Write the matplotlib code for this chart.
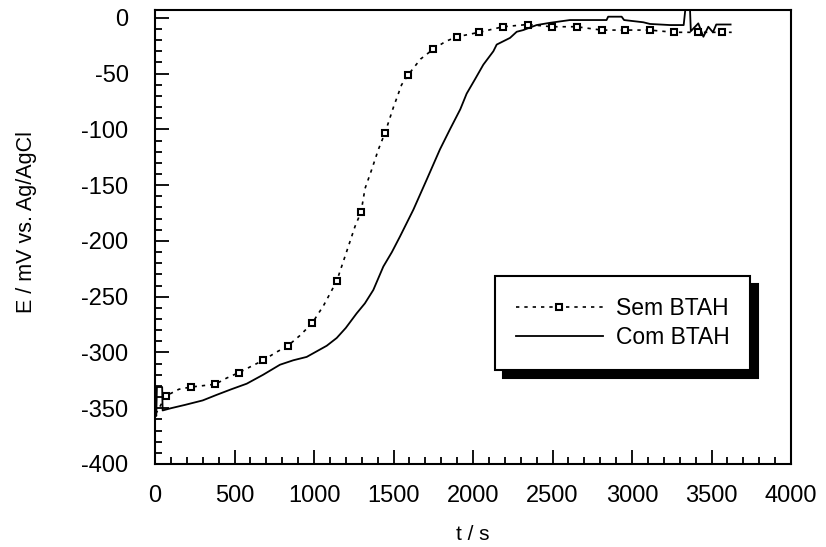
import matplotlib.pyplot as plt
import matplotlib.ticker as ticker
from matplotlib.lines import Line2D

plt.rcParams['font.family'] = ['Liberation Sans', 'DejaVu Sans']
plt.rcParams['axes.unicode_minus'] = False

# Sem BTAH - dotted curve
sem_t = [5, 69, 150, 226, 379, 450, 528, 681, 760, 836, 910, 987, 1060, 1143,
         1216, 1258, 1296, 1321, 1363, 1405, 1447, 1500, 1551, 1593, 1670, 1751,
         1830, 1900, 2038, 2189, 2345, 2494, 2651, 2809, 2956, 3113, 3264, 3415,
         3564, 3627]
sem_e = [-355, -339, -333, -331, -328.5, -323, -318, -307, -300, -294, -285, -274,
         -258, -236, -205, -187, -174, -153, -136, -118, -103, -80, -60, -51, -37,
         -28, -21, -17, -13, -8, -6, -8, -8, -11, -11, -11, -13, -13, -13, -13]
# Sem BTAH - square markers
mark_t = [69, 226, 379, 528, 681, 836, 987, 1143, 1296, 1447, 1593, 1751, 1900,
          2038, 2189, 2345, 2494, 2651, 2809, 2956, 3113, 3264, 3415, 3564]
mark_e = [-339, -331, -328.5, -318, -307, -294, -274, -236, -174, -103, -51, -28,
          -17, -13, -8, -6, -8, -8, -11, -11, -11, -13, -13, -13]

# Com BTAH - solid curve
com_t = [0, 8, 12, 45, 48, 100, 189, 300, 388, 480, 577, 680, 786, 870, 954, 1017,
         1080, 1143, 1200, 1268, 1320, 1373, 1436, 1490, 1541, 1625, 1709, 1792,
         1855, 1920, 1960, 2013, 2065, 2128, 2149, 2233, 2275, 2316, 2400, 2484,
         2610, 2840, 2850, 2935, 2950, 3071, 3113, 3239, 3325, 3335, 3365, 3370,
         3417, 3449, 3480, 3509, 3530, 3620]
com_e = [-350, -357, -331, -331, -352, -350, -347, -343, -338, -333, -328, -320,
         -311, -307, -304, -299, -294, -287, -278, -265, -256, -244, -223, -210,
         -196, -172, -145, -118, -100, -82, -68, -55, -42, -30, -24, -18, -12.5,
         -11, -6.5, -4.5, -2, -2, 1, 1, -2, -4, -5.5, -6.5, -6.5, 7, 7, -12, -5,
         -17, -8, -13, -6, -6]

fig = plt.figure(figsize=(8.26, 5.47), dpi=100)
ax = fig.add_axes([155 / 826, 1 - 464 / 547, 636 / 826, 454 / 547])

ax.plot(sem_t, sem_e, color='black', lw=1.2, dashes=(2, 3))
ax.plot(mark_t, mark_e, ls='none', marker='s', ms=4, mfc='white', mec='black', mew=1.5)
ax.plot(com_t, com_e, color='black', lw=1.3)

ax.set_xlim(0, 4000)
ax.set_ylim(-400, 7)
ax.xaxis.set_major_locator(ticker.MultipleLocator(500))
ax.xaxis.set_minor_locator(ticker.MultipleLocator(100))
ax.yaxis.set_major_locator(ticker.MultipleLocator(50))
ax.yaxis.set_minor_locator(ticker.MultipleLocator(10))
ax.tick_params(which='both', direction='in', width=1.3, labelsize=17)
ax.tick_params(which='major', length=10)
ax.tick_params(which='minor', length=5)
ax.tick_params(axis='x', which='major', pad=15)
ax.tick_params(axis='y', which='major', pad=19)
for s in ax.spines.values():
    s.set_linewidth(1.5)

ax.set_xlabel('t / s', fontsize=15, labelpad=13)
ax.set_ylabel('E / mV vs. Ag/AgCl', fontsize=15.5)
ax.yaxis.set_label_coords(-0.185, 0.533)

h1 = Line2D([], [], color='black', lw=1.2, dashes=(2, 3), marker='s', ms=4,
            mfc='white', mec='black', mew=1.5)
h2 = Line2D([], [], color='black', lw=1.3)
leg = ax.legend([h1, h2], ['Sem BTAH', 'Com BTAH'], loc='lower left',
                bbox_to_anchor=(0.535, 0.207), borderaxespad=0, fontsize=16.5,
                handlelength=3.8, handletextpad=0.55, labelspacing=0.3,
                borderpad=0.9, numpoints=1, fancybox=False, framealpha=1,
                shadow={'ox': 5.5, 'oy': -5.5, 'facecolor': 'black',
                        'edgecolor': 'black', 'alpha': 1})
leg.get_frame().set_edgecolor('black')
leg.get_frame().set_linewidth(1.5)

fig.savefig('out.png', dpi=100)
